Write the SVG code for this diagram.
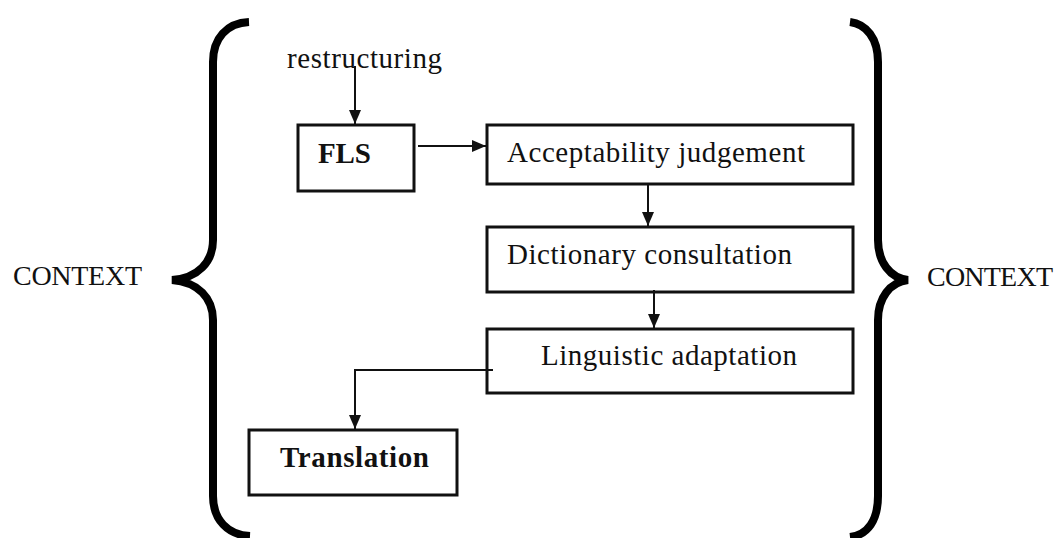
<svg xmlns="http://www.w3.org/2000/svg" width="1056" height="538" viewBox="0 0 1056 538">
  <style>
    .bg { fill: #ffffff; }
    .box { fill: #ffffff; stroke: #111111; stroke-width: 3; }
    .lbl { font-family: "Liberation Serif", "Times New Roman", serif; font-size: 29px; fill: #111111; }
    .bold { font-weight: bold; }
    .ctx { font-family: "Liberation Serif", "Times New Roman", serif; font-size: 28px; fill: #111111; }
    .brace { fill: none; stroke: #000000; stroke-width: 8; stroke-linecap: butt; }
    .conn { fill: none; stroke: #111111; stroke-width: 2; }
  </style>
  <defs>
    <marker id="arrow" markerUnits="userSpaceOnUse" markerWidth="14" markerHeight="12" viewBox="0 0 14 12" refX="14" refY="6" orient="auto">
      <path d="M0,0 L14,6 L0,12 Z" fill="#111111"/>
    </marker>
  </defs>

  <rect class="bg" x="0" y="0" width="1056" height="538"/>

  <!-- context braces -->
  <g id="brace-left">
    <path class="brace" d="M249,22 C227,23 213,38 213,62 L213,240 C213,262 198,278 172,280 C198,282 213,298 213,320 L213,496 C213,520 228,535 250,536"/>
    <text class="ctx" x="13" y="285" textLength="129">CONTEXT</text>
  </g>
  <g id="brace-right">
    <path class="brace" d="M850,22 C866,24 878,38 878,62 L878,240 C878,262 890,278 908,280 C890,282 878,298 878,320 L878,496 C878,520 868,535 850,537"/>
    <text class="ctx" x="927" y="286" textLength="126">CONTEXT</text>
  </g>

  <!-- nodes -->
  <g id="restructuring">
    <text class="lbl" x="287" y="68" font-size="27" textLength="155">restructuring</text>
  </g>
  <g id="fls">
    <rect class="box" x="298" y="125" width="116" height="66"/>
    <text class="lbl bold" x="318" y="163" textLength="53">FLS</text>
  </g>
  <g id="acceptability">
    <rect class="box" x="487" y="125" width="366" height="59"/>
    <text class="lbl" x="507" y="162" textLength="298">Acceptability judgement</text>
  </g>
  <g id="dictionary">
    <rect class="box" x="487" y="227" width="366" height="65"/>
    <text class="lbl" x="507" y="264" textLength="285">Dictionary consultation</text>
  </g>
  <g id="linguistic">
    <rect class="box" x="487" y="329" width="366" height="64"/>
    <text class="lbl" x="541" y="365" textLength="256">Linguistic adaptation</text>
  </g>
  <g id="translation">
    <rect class="box" x="249" y="430" width="208" height="65"/>
    <text class="lbl bold" x="280" y="467" textLength="149">Translation</text>
  </g>

  <!-- connectors -->
  <g id="connectors">
    <path class="conn" d="M355,66 L355,124" marker-end="url(#arrow)"/>
    <path class="conn" d="M418,146 L486,146" marker-end="url(#arrow)"/>
    <path class="conn" d="M648,185 L648,226" marker-end="url(#arrow)"/>
    <path class="conn" d="M654,290 L654,328" marker-end="url(#arrow)"/>
    <path class="conn" d="M493,370 L355,370 L355,429" marker-end="url(#arrow)"/>
  </g>
</svg>
